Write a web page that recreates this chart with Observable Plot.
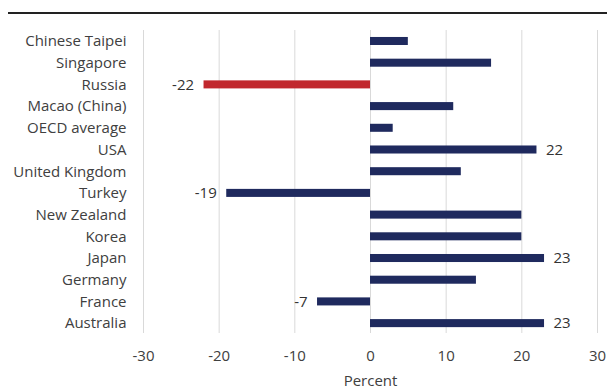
<!DOCTYPE html>
<html>
<head>
<meta charset="utf-8">
<script src="https://cdn.jsdelivr.net/npm/d3@7"></script>
<script src="https://cdn.jsdelivr.net/npm/@observablehq/plot@0.6"></script>
<style>
  html, body { margin: 0; padding: 0; background: #fff; }
  #wrap { position: relative; width: 607px; height: 392px; overflow: hidden; }
  #rule { position: absolute; left: 8px; right: 0; top: 12px; border-top: 2px solid #222; }
  #chart { position: absolute; left: 0; top: 0; }
</style>
</head>
<body>
<div id="wrap"><div id="rule"></div><div id="chart"></div></div>
<script>
const countries = ["Chinese Taipei","Singapore","Russia","Macao (China)","OECD average","USA","United Kingdom","Turkey","New Zealand","Korea","Japan","Germany","France","Australia"];
const values = [5, 16, -22, 11, 3, 22, 12, -19, 20, 20, 23, 14, -7, 23];
const highlighted = ["Russia"];
const labelled = ["Russia","USA","Turkey","Japan","France","Australia"];
const xTicks = [-30, -20, -10, 0, 10, 20, 30];

const data = countries.map((c, i) => ({country: c, value: values[i]}));
const labelData = data.filter(d => labelled.includes(d.country));
const negLabels = labelData.filter(d => d.value < 0);
const posLabels = labelData.filter(d => d.value >= 0);

const chart = Plot.plot({
  width: 607,
  height: 392,
  marginLeft: 143,
  marginRight: 10,
  marginTop: 30,
  marginBottom: 59,
  style: {fontFamily: "'Open Sans', Lato, sans-serif", fontSize: "15px", color: "#404040", background: "transparent"},
  x: {domain: [-30, 30], ticks: xTicks, tickFormat: d => String(d), label: "Percent", labelAnchor: "center", labelArrow: "none", tickSize: 0, tickPadding: 17, labelOffset: 52},
  y: {domain: countries, padding: 0.63, round: false, range: [23.3, 340.8], label: null, tickSize: 0, tickPadding: 17},
  marks: [
    Plot.gridX(xTicks, {stroke: "#d9d9d9", strokeOpacity: 1, strokeWidth: 1}),
    Plot.barX(data, {x: "value", y: "country", fill: d => highlighted.includes(d.country) ? "#c1272d" : "#1f2a5e"}),
    Plot.text(negLabels, {x: "value", y: "country", text: d => String(d.value), textAnchor: "end", dx: -10, fill: "#333", fontSize: 15}),
    Plot.text(posLabels, {x: "value", y: "country", text: d => String(d.value), textAnchor: "start", dx: 9, fill: "#333", fontSize: 15})
  ]
});
document.getElementById("chart").appendChild(chart);
</script>
</body>
</html>
